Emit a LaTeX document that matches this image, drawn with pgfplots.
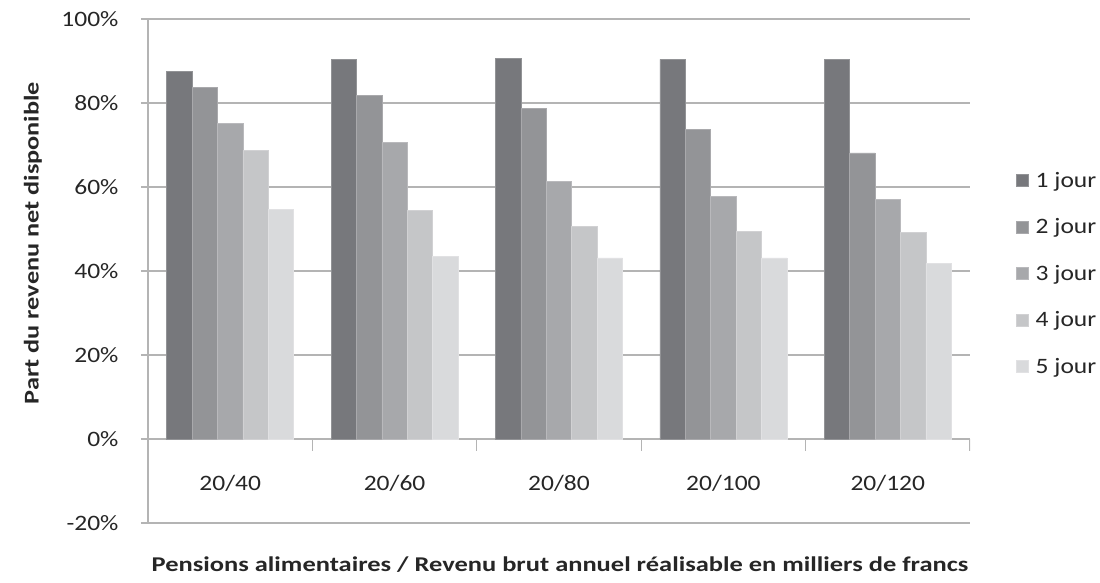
\documentclass[border=0pt]{standalone}
\usepackage{pgfplots}
\pgfplotsset{compat=1.18}
\usepackage{fontspec}
\setmainfont{Carlito}

\definecolor{jA}{HTML}{77787C}
\definecolor{jB}{HTML}{939497}
\definecolor{jC}{HTML}{A7A8AB}
\definecolor{jD}{HTML}{C5C6C8}
\definecolor{jE}{HTML}{D9DADC}
\definecolor{gridc}{HTML}{B4B4B4}
\definecolor{txt}{HTML}{262626}

% the reference text is a little wider than the font
\newcommand\sx[1]{\scalebox{1.16}[1]{#1}}

\begin{document}
\begin{tikzpicture}
\useasboundingbox (0,0) rectangle (1100bp,583bp);
\begin{axis}[
    at={(148bp,60bp)}, anchor=south west,
    scale only axis, width=822bp, height=504bp,
    ybar=0pt, bar width=25.4bp,
    xmin=-0.5, xmax=4.5,
    ymin=-20, ymax=100,
    ytick={-20,0,20,40,60,80,100},
    yticklabels={\sx{-20\%},\sx{0\%},\sx{20\%},\sx{40\%},\sx{60\%},\sx{80\%},\sx{100\%}},
    xtick={0,1,2,3,4},
    xticklabels={\sx{20/40},\sx{20/60},\sx{20/80},\sx{20/100},\sx{20/120}},
    axis y line*=left,
    axis x line*=bottom,
    x axis line style={draw=none},
    y axis line style={draw=gridc, line width=1.3bp},
    xtick style={draw=none},
    ytick style={draw=gridc, line width=1.3bp},
    tick align=outside, major tick length=7bp,
    ymajorgrids, grid style={draw=gridc, line width=1.3bp},
    tick label style={font=\fontsize{22bp}{26bp}\selectfont, text=txt},
    yticklabel style={anchor=east, xshift=-19bp},
    xticklabel style={anchor=center, yshift=47bp},
    legend style={at={(1.052,0.495)}, anchor=west, draw=none, fill=none,
        font=\fontsize{22bp}{26bp}\selectfont, text=txt, row sep=26bp,
        column sep=5bp},
    legend cell align=left,
    legend image code/.code={\fill[#1] (0bp,-6bp) rectangle (12bp,6bp);},
    every axis plot/.append style={line width=0.8bp},
]
\addplot[fill=jA, draw=jA!80!white] coordinates {(0,87.6) (1,90.4) (2,90.6) (3,90.4) (4,90.4)};
\addplot[fill=jB, draw=jB!80!white] coordinates {(0,83.7) (1,81.8) (2,78.7) (3,73.6) (4,68.1)};
\addplot[fill=jC, draw=jC!80!white] coordinates {(0,75.2) (1,70.5) (2,61.4) (3,57.7) (4,57.1)};
\addplot[fill=jD, draw=jD!80!white] coordinates {(0,68.7) (1,54.4) (2,50.7) (3,49.5) (4,49.2)};
\addplot[fill=jE, draw=jE!80!white] coordinates {(0,54.7) (1,43.4) (2,43.1) (3,43.1) (4,41.8)};
\legend{\sx{1 jour},\sx{2 jour},\sx{3 jour},\sx{4 jour},\sx{5 jour}}
\pgfplotsinvokeforeach{0.5,1.5,2.5,3.5,4.5}{
  \draw[gridc, line width=1.3bp] (axis cs:#1,0) -- ([yshift=-12bp]axis cs:#1,0);
}
\end{axis}
\node[rotate=90, text=txt, font=\bfseries\fontsize{21bp}{25bp}\selectfont] at (33bp,340bp) {\scalebox{1.25}[1]{Part du revenu net disponible}};
\node[text=txt, font=\bfseries\fontsize{21bp}{25bp}\selectfont] at (560bp,18bp) {\scalebox{1.26}[1]{Pensions alimentaires / Revenu brut annuel réalisable en milliers de francs}};
\end{tikzpicture}
\end{document}
